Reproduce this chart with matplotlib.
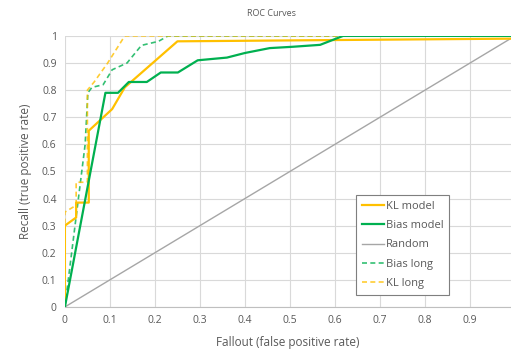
import matplotlib
matplotlib.use("Agg")
import matplotlib.pyplot as plt

# curves
kl_x = [0, 0, 0.025, 0.025, 0.053, 0.053, 0.105, 0.133, 0.25, 0.62, 1.0]
kl_y = [0, 0.30, 0.33, 0.385, 0.385, 0.65, 0.73, 0.81, 0.98, 0.985, 0.99]

bias_x = [0, 0.09, 0.118, 0.142, 0.182, 0.213, 0.251, 0.295, 0.36, 0.40, 0.455, 0.507, 0.567, 0.618, 1.0]
bias_y = [0, 0.79, 0.79, 0.83, 0.83, 0.865, 0.865, 0.91, 0.92, 0.937, 0.955, 0.96, 0.967, 1.0, 1.0]

rand_x = [0, 1]
rand_y = [0, 1]

bias_long_x = [0, 0.045, 0.051, 0.06, 0.085, 0.105, 0.138, 0.17, 0.208, 0.229, 1.0]
bias_long_y = [0, 0.60, 0.79, 0.81, 0.82, 0.875, 0.90, 0.965, 0.98, 1.0, 1.0]

kl_long_x = [0, 0, 0.025, 0.025, 0.05, 0.05, 0.065, 0.095, 0.133, 1.0]
kl_long_y = [0, 0.35, 0.375, 0.46, 0.46, 0.80, 0.83, 0.90, 1.0, 1.0]

ticks = [round(0.1 * i, 1) for i in range(11)]
tick_labels = ["0", "0.1", "0.2", "0.3", "0.4", "0.5", "0.6", "0.7", "0.8", "0.9", "1"]

orange = "#FFC000"
green = "#00B050"
grey = "#595959"

plt.rcParams["font.family"] = ["Open Sans", "DejaVu Sans"]

fig = plt.figure(figsize=(5.11, 3.52), dpi=100, facecolor="white")
ax = fig.add_axes([0.127, 0.128, 0.873, 0.77])

ax.plot(kl_x, kl_y, color=orange, lw=1.6, label="KL model", zorder=4)
ax.plot(bias_x, bias_y, color=green, lw=1.6, label="Bias model", zorder=5)
ax.plot(rand_x, rand_y, color="#A6A6A6", lw=1.0, label="Random", zorder=3)
ax.plot(bias_long_x, bias_long_y, color=green, lw=1.2, ls=(0, (3, 2)), label="Bias long", alpha=0.8, zorder=3)
ax.plot(kl_long_x, kl_long_y, color=orange, lw=1.2, ls=(0, (3, 2)), label="KL long", alpha=0.8, zorder=3)

ax.set_xlim(0, 0.991)
ax.set_ylim(0, 1)
ax.set_xticks(ticks[:10])
ax.set_xticklabels(tick_labels[:10])
ax.set_yticks(ticks)
ax.set_yticklabels(tick_labels)
ax.tick_params(length=0, labelsize=7.5, colors=grey, pad=6)
ax.grid(True, color="#D9D9D9", lw=0.8)
ax.set_axisbelow(True)
for side in ["top", "right", "left"]:
    ax.spines[side].set_visible(False)
ax.spines["bottom"].set_color("#BFBFBF")

ax.set_xlabel("Fallout (false positive rate)", fontsize=8.5, color=grey, labelpad=7)
ax.set_ylabel("Recall (true positive rate)", fontsize=8.5, color=grey, labelpad=7)
fig.text(0.532, 0.963, "ROC Curves", fontsize=6.5, color=grey, ha="center", va="center")

leg = ax.legend(loc="lower left", bbox_to_anchor=(0.64, 0.025), fontsize=8,
                handlelength=2.0, handletextpad=0.2, labelspacing=0.75,
                borderpad=0.5, fancybox=False, framealpha=1)
leg.get_frame().set_edgecolor("#7F7F7F")
leg.get_frame().set_linewidth(0.8)
for t in leg.get_texts():
    t.set_color(grey)

fig.savefig("out.png", dpi=100, facecolor="white")
